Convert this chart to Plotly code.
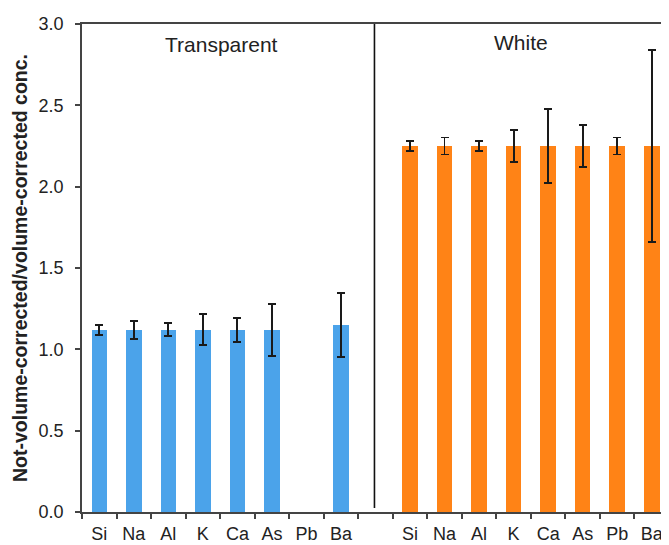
import plotly.graph_objects as go

elements = ["Si", "Na", "Al", "K", "Ca", "As", "Pb", "Ba"]
groups = ["Transparent", "White"]

transparent_vals = [1.12, 1.12, 1.12, 1.12, 1.12, 1.12, None, 1.15]
transparent_err = [0.030, 0.055, 0.040, 0.095, 0.075, 0.160, None, 0.195]

white_vals = [2.25, 2.25, 2.25, 2.25, 2.25, 2.25, 2.25, 2.25]
white_err = [0.033, 0.052, 0.033, 0.097, 0.229, 0.130, 0.052, 0.590]

y_ticks = [0.0, 0.5, 1.0, 1.5, 2.0, 2.5, 3.0]

n = len(elements)
x_trans = list(range(n))
x_white = [n + 1 + i for i in range(n)]
gap_x = n

font_family = "Arial, Liberation Sans, sans-serif"
text_col = "#222222"

fig = go.Figure()
fig.add_trace(go.Bar(
    x=x_trans, y=transparent_vals, width=0.45,
    marker=dict(color="#4ba3ea", line=dict(width=0)),
    error_y=dict(type="data", array=transparent_err, visible=True,
                 color="#1a1a1a", thickness=1.8, width=4),
    name=groups[0], showlegend=False,
))
fig.add_trace(go.Bar(
    x=x_white, y=white_vals, width=0.45,
    marker=dict(color="#ff8316", line=dict(width=0)),
    error_y=dict(type="data", array=white_err, visible=True,
                 color="#1a1a1a", thickness=1.8, width=4),
    name=groups[1], showlegend=False,
))

# divider between the two panels
fig.add_shape(type="line", xref="x", yref="y", x0=gap_x - 0.03, x1=gap_x - 0.03,
              y0=0.025, y1=3.0, line=dict(color="#111111", width=1.6))

# panel titles
fig.add_annotation(x=3.55, y=2.875, xref="x", yref="y",
                   text=groups[0], showarrow=False,
                   font=dict(family=font_family, size=21, color=text_col))
fig.add_annotation(x=12.2, y=2.885, xref="x", yref="y",
                   text=groups[1], showarrow=False,
                   font=dict(family=font_family, size=21, color=text_col))

# page body has an 8px margin, so the figure is sized to fit the window
fig.update_layout(
    width=661, height=537,
    margin=dict(l=74, r=0, t=16, b=33),
    plot_bgcolor="white", paper_bgcolor="white",
    font=dict(family=font_family, color=text_col),
    bargap=0,
)
fig.update_xaxes(
    automargin=False,
    range=[-0.5, 2 * n + 0.5],
    tickmode="array",
    tickvals=x_trans + x_white,
    ticktext=elements + elements,
    ticks="", showgrid=False, zeroline=False,
    showline=True, linecolor="#444444", linewidth=1.8, mirror=True,
    tickfont=dict(size=18, color=text_col),
    ticklabelstandoff=4,
    minor=dict(tickmode="linear", tick0=-0.5, dtick=1, ticks="outside",
               ticklen=5, tickwidth=1.5, tickcolor="#444444", showgrid=False),
)
fig.update_yaxes(
    automargin=False,
    range=[0, 3.0],
    tickmode="array", tickvals=y_ticks,
    tickformat=".1f",
    ticks="outside", ticklen=5, tickwidth=1.5, tickcolor="#444444",
    showgrid=False, zeroline=False,
    showline=True, linecolor="#444444", linewidth=1.8, mirror=True,
    tickfont=dict(size=18, color=text_col),
    ticklabelstandoff=8,
    title=dict(text="<b>Not-volume-corrected/volume-corrected conc.</b>",
               font=dict(size=19.5, color=text_col), standoff=6),
)

fig.write_html("out.html")
